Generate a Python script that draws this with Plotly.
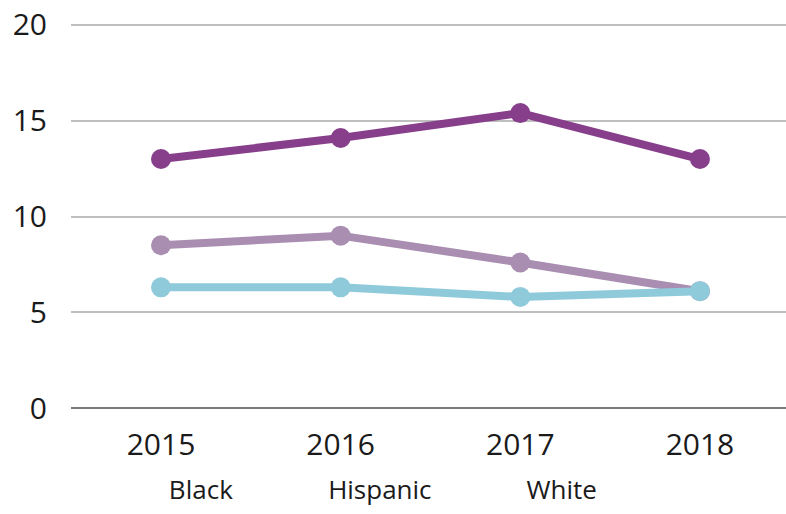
import plotly.graph_objects as go

years = [2015, 2016, 2017, 2018]
series_names = ["Black", "Hispanic", "White"]
black = [13.0, 14.1, 15.4, 13.0]
hispanic = [8.5, 9.0, 7.6, 6.1]
white = [6.3, 6.3, 5.8, 6.1]
colors = ["#873E8B", "#A98EB2", "#8FCADA"]
y_ticks = [0, 5, 10, 15, 20]

FONT = "Open Sans"

fig = go.Figure()
# draw order: hispanic bottom, white above it (covers the shared 2018 point), black on top
for name, vals, col in [("Hispanic", hispanic, colors[1]), ("White", white, colors[2]), ("Black", black, colors[0])]:
    fig.add_trace(go.Scatter(x=years, y=vals, mode="lines+markers", name=name,
                             line=dict(color=col, width=8),
                             marker=dict(color=col, size=20),
                             showlegend=False, hoverinfo="x+y+name", cliponaxis=False))
# legend entries (reference shows names without visible symbols)
for name in series_names:
    fig.add_trace(go.Scatter(x=[None], y=[None], mode="lines", name=name,
                             line=dict(color="rgba(0,0,0,0)", width=0),
                             showlegend=True))

fig.update_layout(
    width=786, height=514,
    margin=dict(l=71, r=0, t=23, b=106, autoexpand=False),
    paper_bgcolor="white", plot_bgcolor="white",
    font=dict(family=FONT, size=30, color="#1a1a1a"),
    xaxis=dict(range=[2014.499, 2018.479], tickvals=years, ticktext=[str(y) for y in years],
               showgrid=False, zeroline=False, showline=False, ticks="", automargin=False,
               ticklabelstandoff=16, tickfont=dict(size=30)),
    yaxis=dict(range=[0, 20.104], tickvals=y_ticks, showgrid=True, gridcolor="#BFBFBF", gridwidth=1.5,
               zeroline=True, zerolinecolor="#7A7A7A", zerolinewidth=2, automargin=False,
               showline=False, ticks="", ticklabelstandoff=23, tickfont=dict(size=30)),
    legend=dict(orientation="h", x=0.011, xanchor="left", y=-0.149, yanchor="top",
                font=dict(size=26), itemwidth=80, traceorder="normal"),
)

fig.write_html("out.html", config={"displayModeBar": False},
               post_script="document.body.style.margin='0';document.body.style.overflow='hidden';")
